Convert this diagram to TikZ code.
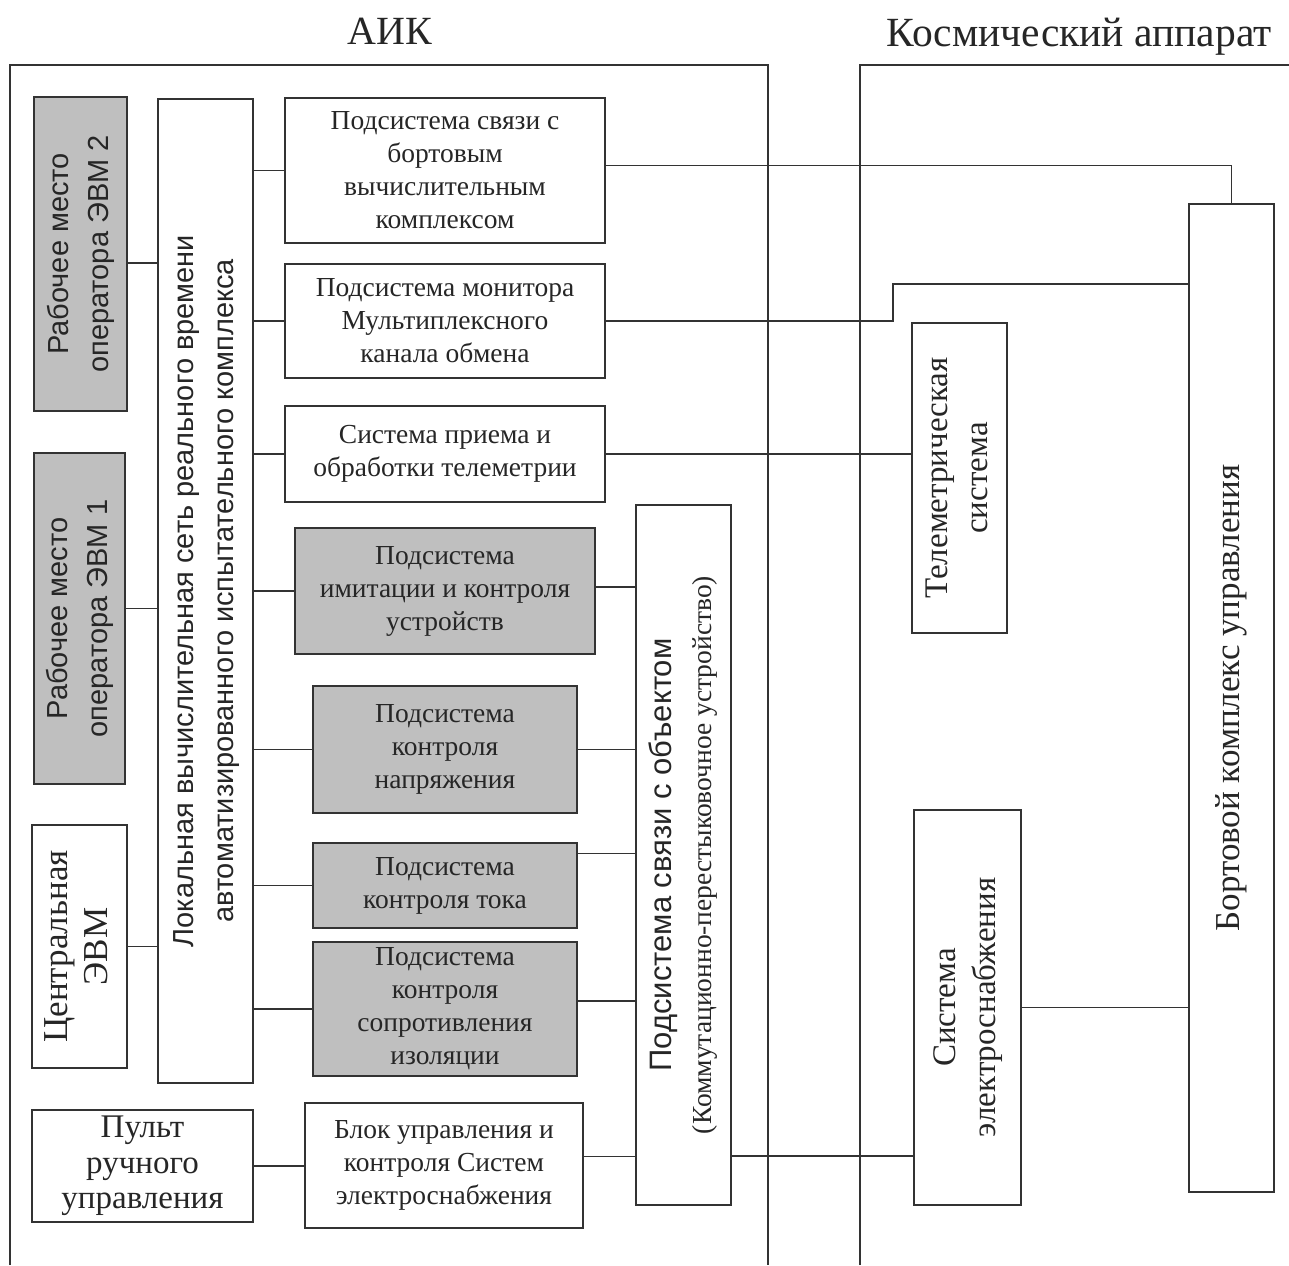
\documentclass[tikz,border=0pt]{standalone}
\usepackage{fontspec}
\setmainfont{Liberation Serif}
\setsansfont{Liberation Sans}
\usepackage{graphicx}
\usetikzlibrary{positioning, calc}

% text turned to read from bottom to top
\newcommand{\vlabel}[1]{\rotatebox{90}{\begin{tabular}{@{}c@{}}#1\end{tabular}}}

\begin{document}
\begin{tikzpicture}[
    x=1pt, y=-1pt,
    boxline/.style={draw=black!80, line width=1.5pt, text=black!85, inner sep=0pt},
    box/.style={boxline, fill=white, align=center, font=\fontsize{27.5}{33}\selectfont},
    gbox/.style={box, fill=black!25},
    vbox/.style={boxline, fill=white, font=\fontsize{33}{40}\selectfont},
    vsans/.style={boxline, fill=white, font=\sffamily\fontsize{29}{40}\selectfont},
    link/.style={draw=black!80, line width=1.5pt},
    title/.style={text=black!85, font=\fontsize{40}{46}\selectfont},
]
\useasboundingbox (0,0) rectangle (1289,1265);
\fill[white] (0,0) rectangle (1289,1265);

% Headings and frames
\node[title] (aik) at (390,31) {АИК};
\node[title, font=\fontsize{41.5}{46}\selectfont] (ka) at (1079,37) {Космический аппарат};
\draw[link] (10,1265) |- (768,65) -- (768,1265);
\draw[link] (860,1265) |- (1289,65);

% Left column: workplaces, central computer, network
\node[vsans, fill=black!25, minimum width=93pt, minimum height=314pt] (evm2) at (80.5,254) {\vlabel{Рабочее место\\оператора ЭВМ 2}};
\node[vsans, fill=black!25, minimum width=91pt, minimum height=331pt] (evm1) at (79.5,618.5) {\vlabel{Рабочее место\\оператора ЭВМ 1}};
\node[vbox, font=\fontsize{35}{40}\selectfont, minimum width=95pt, minimum height=243pt] (cevm) at (79.5,946.5) {\vlabel{Центральная\\ЭВМ}};
\node[vsans, minimum width=95pt, minimum height=984pt] (lan) at (205.5,591) {\vlabel{Локальная вычислительная сеть реального времени\\автоматизированного испытательного комплекса}};
\draw[link] ([yshift=-9pt]evm2.east) -- ([yshift=-9pt]evm2.east -| lan.west);
\draw[link] ([yshift=10pt]evm1.east) -- ([yshift=10pt]evm1.east -| lan.west);
\draw[link] (cevm.east) -- (cevm.east -| lan.west);

% Middle column: subsystems
\node[box, minimum width=320pt, minimum height=145pt] (b1) at (445,170.5) {Подсистема связи с\\бортовым\\вычислительным\\комплексом};
\node[box, minimum width=320pt, minimum height=114pt] (b2) at (445,321) {Подсистема монитора\\Мультиплексного\\канала обмена};
\node[box, minimum width=320pt, minimum height=96pt] (b3) at (445,454) {Система приема и\\обработки телеметрии};
\node[gbox, minimum width=300pt, minimum height=126pt] (b4) at (445,591) {Подсистема\\имитации и контроля\\устройств};
\node[gbox, minimum width=264pt, minimum height=127pt] (b5) at (445,749.5) {Подсистема\\контроля\\напряжения};
\node[gbox, minimum width=264pt, minimum height=85pt] (b6) at (445,885.5) {Подсистема\\контроля тока};
\node[gbox, minimum width=264pt, minimum height=134pt] (b7) at (445,1009) {Подсистема\\контроля\\сопротивления\\изоляции};
\foreach \n in {b1,b2,b3,b4,b5,b6,b7}
    \draw[link] (\n.west) -- (\n.west -| lan.east);

% Bottom row: manual panel and power control unit
\node[box, font=\fontsize{33}{35.5}\selectfont, minimum width=221pt, minimum height=112pt] (pult) at (142.5,1166) {Пульт\\ручного\\управления};
\node[box, minimum width=278pt, minimum height=125pt] (blok) at (444,1165.5) {Блок управления и\\контроля Систем\\электроснабжения};
\draw[link] (pult.east) -- (pult.east -| blok.west);

% Object link subsystem
\node[vbox, minimum width=95pt, minimum height=700pt] (pso) at (683.5,855) {\vlabel{{\sffamily\fontsize{31}{37}\selectfont Подсистема связи с объектом}\\{\fontsize{27.5}{37}\selectfont (Коммутационно-перестыковочное устройство)}}};
\draw[link] ([yshift=4pt]b4.east) -- ([yshift=4pt]b4.east -| pso.west);
\draw[link] (b5.east) -- (b5.east -| pso.west);
\draw[link] ([yshift=32pt]b6.east) -- ([yshift=32pt]b6.east -| pso.west);
\draw[link] ([yshift=8pt]b7.east) -- ([yshift=8pt]b7.east -| pso.west);
\draw[link] ([yshift=9pt]blok.east) -- ([yshift=9pt]blok.east -| pso.west);

% Spacecraft side
\node[vbox, minimum width=95pt, minimum height=310pt] (tele) at (959.5,478) {\vlabel{Телеметрическая\\система}};
\node[vbox, minimum width=107pt, minimum height=395pt] (ses) at (967.5,1007.5) {\vlabel{Система\\электроснабжения}};
\node[vbox, font=\fontsize{35}{40}\selectfont, minimum width=85pt, minimum height=988pt] (bku) at (1231.5,698) {\vlabel{Бортовой комплекс управления}};
\coordinate (b2kink) at (893,284);

% Links across the frames
\draw[link] ([yshift=5pt]b1.east) -| (bku.north);
\draw[link] (b2.east) -| (b2kink) -- (b2kink -| bku.west);
\draw[link] (b3.east) -- (b3.east -| tele.west);
\draw[link] ([yshift=-301pt]pso.east) -- ([yshift=-301pt]pso.east -| ses.west);
\draw[link] (ses.east) -- (ses.east -| bku.west);

\end{tikzpicture}
\end{document}
